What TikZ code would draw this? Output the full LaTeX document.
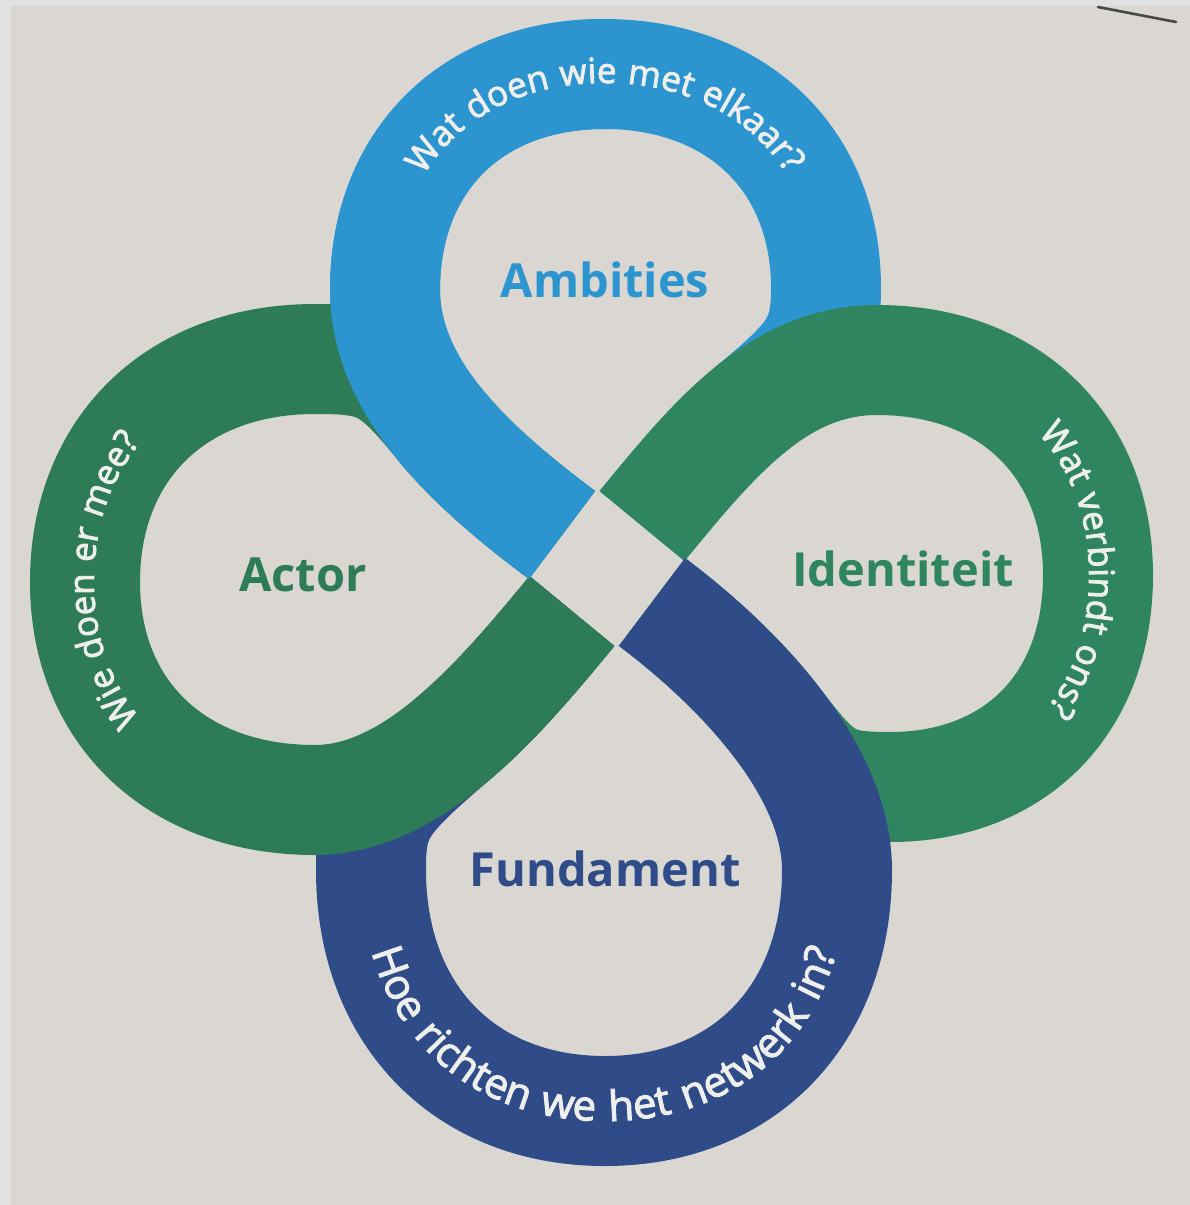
\documentclass[tikz,border=0pt]{standalone}
\usepackage{fontspec}
\setmainfont{Open Sans}
\newfontfamily\labelfont{Open Sans}
\newfontfamily\arcfont[LetterSpace=4, FakeBold=2.4]{Open Sans}
\newfontfamily\widearcfont[LetterSpace=7, FakeBold=2.4]{Open Sans}
\usetikzlibrary{decorations.text}

\definecolor{paper}{HTML}{DAD7D3}
\definecolor{rim}{HTML}{E0E1E0}
\definecolor{ambblue}{HTML}{2C94CE}
\definecolor{actgreen}{HTML}{2D7B57}
\definecolor{idgreen}{HTML}{2E8560}
\definecolor{fundblue}{HTML}{2F4C89}
\definecolor{arctext}{HTML}{EEEEEC}

\begin{document}
\begin{tikzpicture}[x=1pt, y=-1pt,
  band/.style={line width=110pt, line cap=butt, line join=round},
  title/.style={font=\labelfont\bfseries\fontsize{47}{47}\selectfont, inner sep=0pt, anchor=base},
  arctxt/.style={decorate, decoration={text along path, text align=center,
      text={|\color{arctext}\arcfont\fontsize{#1}{#1}\selectfont|\arcstring}}},
  widearctxt/.style={decorate, decoration={text along path, text align=center,
      text={|\color{arctext}\widearcfont\fontsize{#1}{#1}\selectfont|\arcstring}}}
]
% sheet and margins
\fill[rim] (0,0) rectangle (1190,1205);
\fill[paper] (11,6) rectangle (1190,1205);
\useasboundingbox (0,0) rectangle (1190,1205);
\draw[line width=2.6pt, black!72, line cap=round] (1098,7) -- (1176,22);

% ends of the four bands around the central crossing
\coordinate (cUL) at (562,535);
\coordinate (cUR) at (642,526);
\coordinate (cLR) at (652,602);
\coordinate (cLL) at (572,611);
% points where a hidden leg leaves the band lying on top of it
\coordinate (mUL) at (440.5,425.25);
\coordinate (mUR) at (748.25,411.125);
\coordinate (mLR) at (777.5,723.25);
\coordinate (mLL) at (454.75,737.375);

% top loop (its right leg runs under the right loop)
\draw[band, ambblue] (cUL) .. controls (518,502) and (473.75,465.75) .. (mUL)
  .. controls (407.25,384.75) and (385,340) .. (385,290)
  .. controls (385,160) and (473,74) .. (604,74)
  .. controls (737,74) and (826,160) .. (826,288)
  .. controls (826,342) and (813.9,357) .. (mUR)
  .. controls (710.75,442) and (677,483.5) .. (cUR);
% right loop (its lower leg runs under the bottom loop)
\draw[band, idgreen] (cUR) .. controls (677,483.5) and (710.75,442) .. (mUR)
  .. controls (785.75,380.25) and (827,360) .. (877,360)
  .. controls (1010,360) and (1098,446) .. (1098,575)
  .. controls (1098,704) and (1015,787) .. (890,787)
  .. controls (832,787) and (821.1,780.5) .. (mLR)
  .. controls (742.25,677) and (696,635) .. (cLR);
% bottom loop (its left leg runs under the left loop)
\draw[band, fundblue] (cLR) .. controls (696,635) and (742.25,677) .. (mLR)
  .. controls (812.75,769.5) and (837,820) .. (837,870)
  .. controls (837,1015) and (744,1111) .. (605,1111)
  .. controls (465,1111) and (371,1015) .. (371,870)
  .. controls (371,815) and (378.65,802.2) .. (mLL)
  .. controls (497.75,700.75) and (537,653.5) .. (cLL);
% left loop (its upper leg runs under the top loop)
\draw[band, actgreen] (cLL) .. controls (537,653.5) and (497.75,700.75) .. (mLL)
  .. controls (411.75,774) and (365,800) .. (315,800)
  .. controls (177,800) and (85,713) .. (85,582)
  .. controls (85,448) and (177,359) .. (315,359)
  .. controls (379,359) and (391.1,365) .. (mUL)
  .. controls (473.75,465.75) and (518,502) .. (cUL);
% top loop passes over the left loop
\draw[band, ambblue] (cUL) .. controls (518,502) and (473.75,465.75) .. (mUL)
  .. controls (407.25,384.75) and (385,340) .. (385,290)
  .. controls (385,160) and (473,74) .. (604,74);

% titles
\node[title, text=ambblue] (amb) at (605,297) {Ambities};
\node[title, text=actgreen] (act) at (303,591) {Actor};
\node[title, text=idgreen] (ide) at (903,586) {Identiteit};
\node[title, text=fundblue] (fun) at (605,886) {Fundament};

% questions along the bands
\def\arcstring{Wat doen wie met elkaar?}
\path[arctxt=35] (394,290) .. controls (394,166) and (478,83) .. (604,83)
  .. controls (732,83) and (817,165) .. (817,288);
\def\arcstring{Wie doen er mee?}
\path[arctxt=35] (315,791) .. controls (182,791) and (94,707) .. (94,582)
  .. controls (94,454) and (182,368) .. (315,368);
\def\arcstring{Wat verbindt ons?}
\path[arctxt=35] (877,369) .. controls (1003,369) and (1089,451) .. (1089,575)
  .. controls (1089,697) and (1011,778) .. (890,778);
\def\arcstring{Hoe richten we het netwerk in?}
\path[widearctxt=42] (361,870) .. controls (361,1021) and (459,1121) .. (605,1121)
  .. controls (751,1121) and (847,1021) .. (847,870);
\end{tikzpicture}
\end{document}
